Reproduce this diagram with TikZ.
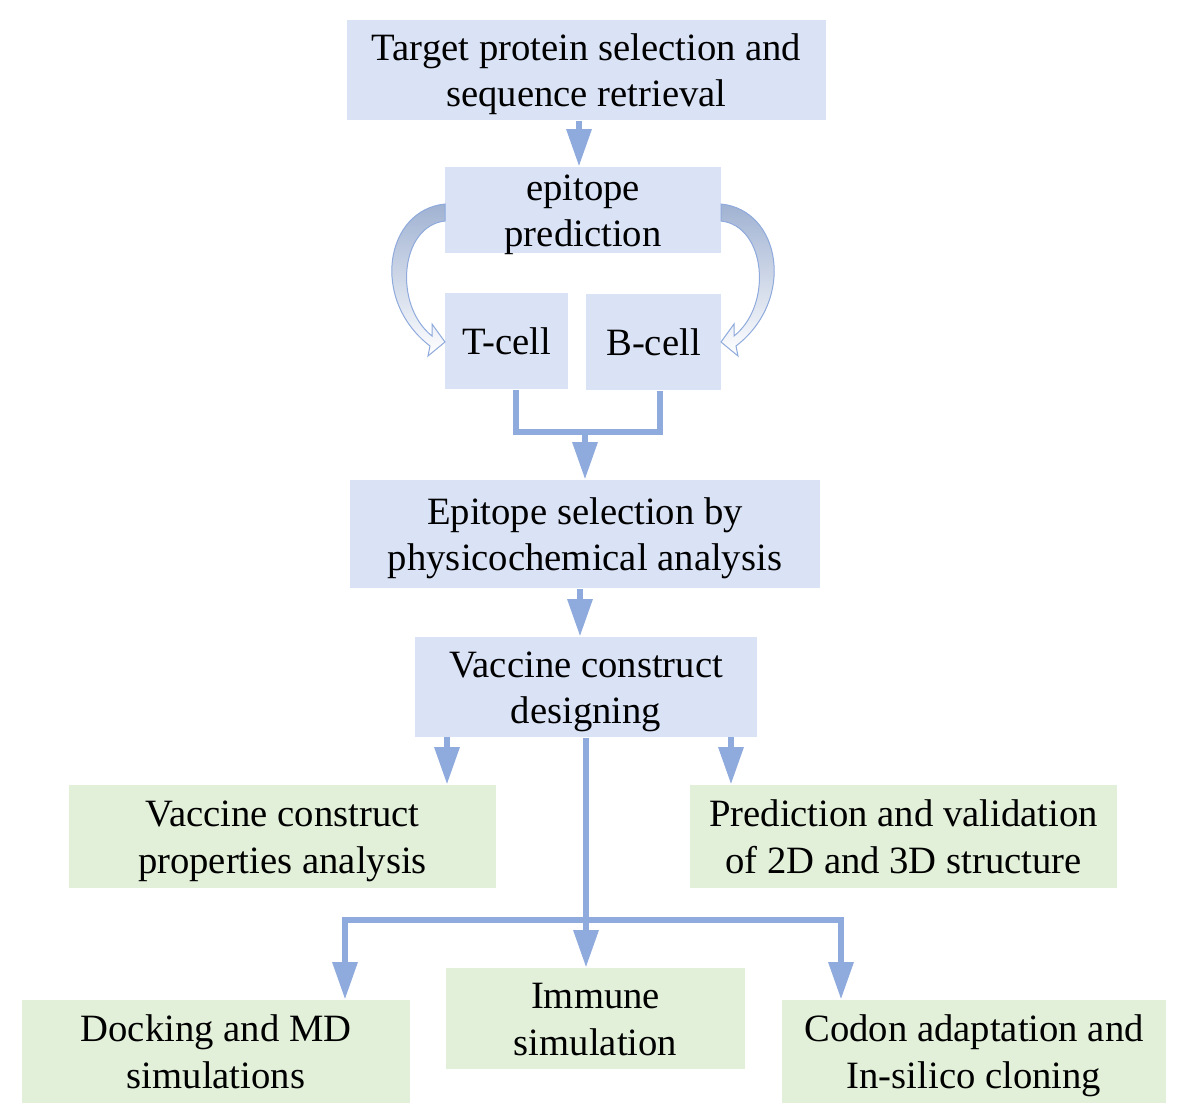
\documentclass[tikz,border=0pt]{standalone}
\usepackage{fontspec}
\setmainfont{Liberation Serif}
\usetikzlibrary{arrows.meta}

\definecolor{boxblue}{RGB}{218,227,246}
\definecolor{boxgreen}{RGB}{226,240,217}
\definecolor{flowblue}{RGB}{143,170,220}
\definecolor{curveblue}{RGB}{160,178,210}

\newcommand{\boxtop}{\rule{0pt}{26.5pt}}
\newcommand{\boxbot}{\rule[-6.5pt]{0pt}{6.5pt}}

\tikzset{every picture/.style={line width=0.75pt}}

\begin{document}
\begin{tikzpicture}[x=0.75pt,y=0.75pt,yscale=-1,xscale=1,
  bluebox/.style={fill=boxblue,inner sep=0pt,align=center,font=\fontsize{29}{35}\selectfont},
  greenbox/.style={fill=boxgreen,inner sep=0pt,align=center,font=\fontsize{29}{35}\selectfont},
  flowline/.style={draw=flowblue,line width=4.5pt},
  flow/.style={flowline,-{Triangle[length=28pt,width=18pt]}},
  curvearrow/.style={draw=flowblue,line width=0.75pt,top color=curveblue,bottom color=white}]
\path [use as bounding box] (0,0) rectangle (1181,1115);

%Shape: Rectangle [id:target]
\node [bluebox,minimum width=359.25pt,minimum height=75pt] (target) at (586.5,70) {\boxtop Target protein selection and\\sequence retrieval\boxbot};
%Shape: Rectangle [id:epitope]
\node [bluebox,minimum width=207pt,minimum height=64.5pt] (epitope) at (583,210) {\rule{0pt}{24.75pt}epitope\\\smash{prediction}\rule[-4.75pt]{0pt}{4.75pt}};
%Shape: Rectangle [id:tcell]
\node [bluebox,minimum width=92.25pt,minimum height=72pt] (tcell) at (506.5,341) {T-cell};
%Shape: Rectangle [id:bcell]
\node [bluebox,minimum width=101.25pt,minimum height=72pt] (bcell) at (653.5,342) {B-cell};
%Shape: Rectangle [id:select]
\node [bluebox,minimum width=352.5pt,minimum height=81pt] (select) at (585,534) {\boxtop Epitope selection by\\physicochemical analysis\boxbot};
%Shape: Rectangle [id:design]
\node [bluebox,minimum width=256.5pt,minimum height=75pt] (design) at (586,687) {\boxtop Vaccine construct\\designing\boxbot};
%Shape: Rectangle [id:props]
\node [greenbox,minimum width=320.25pt,minimum height=77.25pt] (props) at (282.5,836.5) {\boxtop Vaccine construct\\properties analysis\boxbot};
%Shape: Rectangle [id:struct]
\node [greenbox,minimum width=320.25pt,minimum height=77.25pt] (struct) at (903.5,836.5) {\boxtop Prediction and validation\\of 2D and 3D structure\boxbot};
%Shape: Rectangle [id:dock]
\node [greenbox,minimum width=291pt,minimum height=77.25pt] (dock) at (216,1051.5) {\boxtop Docking and MD\\simulations\boxbot};
%Shape: Rectangle [id:immune]
\node [greenbox,minimum width=224.25pt,minimum height=75.75pt] (immune) at (595.5,1018.5) {\boxtop Immune\\simulation\boxbot};
%Shape: Rectangle [id:codon]
\node [greenbox,minimum width=288pt,minimum height=77.25pt] (codon) at (974,1051.5) {\boxtop Codon adaptation and\\In-silico cloning\boxbot};

%Curved Arrow [id:toTcell]
\draw [curvearrow] (445,204) .. controls (385,210) and (370,300) .. (430,346) -- (428,356) -- (445,342) -- (432,324) -- (432,336) .. controls (393,305) and (400,226) .. (445,221) -- cycle ;
%Curved Arrow [id:toBcell]
\draw [curvearrow] (721,204) .. controls (781,210) and (796,300) .. (736,346) -- (738,356) -- (721,342) -- (734,324) -- (734,336) .. controls (773,305) and (766,226) .. (721,221) -- cycle ;

%Straight Lines [id:top]
\draw [flow] (target.south -| 579,0) -- (epitope.north -| 579,0) ;
%Straight Lines [id:merge]
\coordinate (merge) at (585,432) ;
\draw [flowline] ([xshift=6.75pt]tcell.south) |- (merge) -| ([xshift=4.5pt]bcell.south) ;
\draw [flow] (merge) -- (merge |- select.north) ;
%Straight Lines [id:todesign]
\draw [flow] (select.south -| 580,0) -- (design.north -| 580,0) ;
%Straight Lines [id:toprops]
\coordinate (left) at (447,737) ;
\draw [flow] (left) -- (left |- props.north) ;
%Straight Lines [id:tostruct]
\coordinate (right) at (731,737) ;
\draw [flow] (right) -- (right |- struct.north) ;
%Straight Lines [id:hub]
\coordinate (hub) at (586,920) ;
\coordinate (hubL) at (345,920) ;
\coordinate (hubR) at (841,920) ;
\draw [flowline] (design.south) -- (hub) ;
\draw [flow] (hub) -| (hubL |- dock.north) ;
\draw [flow] (hub) -- (hub |- immune.north) ;
\draw [flow] (hub) -| (hubR |- codon.north) ;

\end{tikzpicture}
\end{document}
